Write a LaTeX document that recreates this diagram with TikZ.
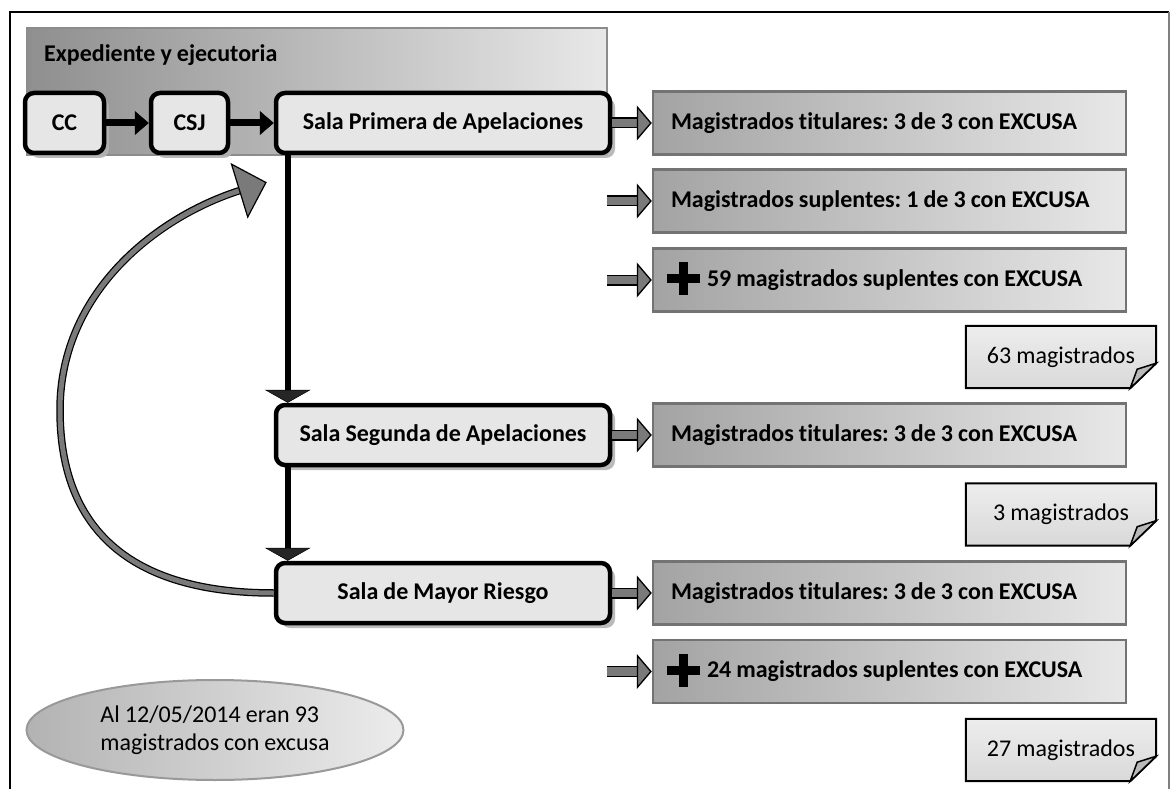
\documentclass[tikz,border=0pt]{standalone}
\usepackage{fontspec}
\setmainfont{Carlito}[Ligatures=NoCommon]
\frenchspacing
\usetikzlibrary{arrows.meta,positioning,shadows,shapes.geometric,backgrounds,calc}
\definecolor{arrowgray}{HTML}{7A7A7A}
\definecolor{salafill}{HTML}{E6E6E6}
\newcommand{\bigfont}{\fontsize{24}{28}\selectfont\spaceskip=0.21em plus 0.1em minus 0.05em\relax}
\newcommand{\crossmark}{\smash{\raisebox{-9pt}{\rlap{\rule[12pt]{33pt}{9pt}}\hspace*{12pt}\rule{9pt}{33pt}}}\hspace*{12pt}\hspace{7pt}}
\tikzset
{
    salanode/.style = {rectangle, rounded corners=9pt, draw=black, line width=4.5pt, fill=salafill, minimum height=60pt, font=\bfseries\bigfont, drop shadow={shadow xshift=5pt, shadow yshift=-5pt, fill=gray!60, opacity=0.9}},
    resultbox/.style = {rectangle, draw=black!55, line width=2.5pt, left color=gray!72, right color=gray!18, minimum width=473pt, minimum height=63pt, text width=437pt, inner xsep=18pt, align=flush left, font=\bfseries\bigfont},
    groupbox/.style = {rectangle, draw=black!45, line width=2pt, left color=gray!88, right color=gray!18, minimum width=580pt, minimum height=127pt},
    grouptitle/.style = {font=\bfseries\bigfont, inner sep=0pt},
    notebox/.style = {minimum width=190pt, minimum height=62pt, font=\bigfont, inner sep=0pt},
    notepaper/.style = {draw=black, line width=2pt, top color=gray!14, bottom color=gray!30},
    notefold/.style = {draw=black, line width=1.5pt, fill=gray!55},
    datenote/.style = {ellipse, draw=gray!80, line width=2pt, left color=gray!60, right color=gray!15, minimum width=377pt, minimum height=100pt, align=flush left, font=\bigfont, inner sep=0pt},
    blackarrow/.style = {draw=black, line width=7pt, -{Triangle[length=14pt, width=24pt, line width=0.5pt]}},
    droparrow/.style = {draw=black, line width=6pt, -{Triangle[length=13pt, width=46pt, line width=0.5pt, fill=black!85, color=black]}},
    grayarrow/.style = {preaction={draw=black, -, line width=11pt, shorten >=13pt}, preaction={draw=arrowgray, -, line width=8.4pt, shorten >=12pt}, draw=arrowgray, line width=1pt, -{Triangle[length=15pt, width=35pt, fill=arrowgray, color=black, line width=1.3pt]}},
    curvearrow/.style = {preaction={draw=black, -, line width=7.5pt, shorten >=26pt}, preaction={draw=arrowgray, -, line width=5pt, shorten >=25pt}, draw=arrowgray, line width=1pt, -{Triangle[length=29pt, width=58pt, fill=arrowgray, color=black, line width=1.2pt]}}
}

\begin{document}
\begin{tikzpicture}[x=1pt, y=-1pt]
	\useasboundingbox (0,0) rectangle (1171,789);
	% frame
	\draw[line width=2.5pt] (10,789) -- (10,12) -- (1169,12);
	\draw[gray, line width=1.5pt] (1169,12) -- (1169,789);

	\node[groupbox] (expbox) at (317,91.5) {};
	\node[grouptitle, anchor=west] (exptitle) at (44,55) {Expediente y ejecutoria};

	\node[salanode, minimum width=79pt] (cc) at (64.5,123) {CC};
	\node[salanode, minimum width=77pt] (csj) at (189.5,123) {CSJ};
	\node[salanode, minimum width=334pt] (sp) at (443,123) {Sala Primera de Apelaciones};
	\node[salanode, minimum width=334pt] (ss) at (443,435) {Sala Segunda de Apelaciones};
	\node[salanode, minimum width=334pt] (sm) at (443,593) {Sala de Mayor Riesgo};

	\node[resultbox] (r1) at (889.5,123) {Magistrados titulares: 3 de 3 con EXCUSA};
	\node[resultbox] (r2) at (889.5,201) {Magistrados suplentes: 1 de 3 con EXCUSA};
	\node[resultbox] (r3) at (889.5,280) {\hspace*{-4pt}\crossmark 59 magistrados suplentes con EXCUSA};
	\node[resultbox] (r4) at (889.5,435) {Magistrados titulares: 3 de 3 con EXCUSA};
	\node[resultbox] (r5) at (889.5,593) {Magistrados titulares: 3 de 3 con EXCUSA};
	\node[resultbox] (r6) at (889.5,671.5) {\hspace*{-4pt}\crossmark 24 magistrados suplentes con EXCUSA};

	\node[notebox] (n1) at (1061,357) {63 magistrados};
	\node[notebox] (n2) at (1061,514.5) {3 magistrados};
	\node[notebox] (n3) at (1061,750) {27 magistrados};

	\node[datenote] (fecha) at (215,730) {Al 12/05/2014 eran 93\\magistrados con excusa};

	\begin{pgfonlayer}{background}
	\foreach \n in {n1,n2,n3}
	{
		\draw[notepaper] (\n.north west) -- (\n.north east) -- ([yshift=25pt]\n.south east) -- ([xshift=-26pt]\n.south east) -- (\n.south west) -- cycle;
		\draw[notefold] ([yshift=25pt]\n.south east) -- ([xshift=-26pt]\n.south east) -- ([shift={(-19pt,19pt)}]\n.south east) -- cycle;
	}
	\end{pgfonlayer}

	\draw[blackarrow] (cc) -- (csj);
	\draw[blackarrow] (csj) -- (sp);
	\draw[droparrow] ([xshift=14pt]sp.south west) -- ([xshift=14pt]ss.north west);
	\draw[droparrow] ([xshift=14pt]ss.south west) -- ([xshift=14pt]sm.north west);

	\coordinate (a2) at (607,201);
	\coordinate (a3) at (607,280);
	\coordinate (a6) at (607,671.5);
	\draw[grayarrow] (sp) -- (r1);
	\draw[grayarrow] (a2) -- (r2);
	\draw[grayarrow] (a3) -- (r3);
	\draw[grayarrow] (ss) -- (r4);
	\draw[grayarrow] (sm) -- (r5);
	\draw[grayarrow] (a6) -- (r6);

	\coordinate (loopend) at ([shift={(-7pt,-27pt)}]sp.south west);
	\draw[curvearrow] (sm.west) .. controls (120,593) and (60,520) .. (60,410) .. controls (60,290) and (160,215) .. (loopend);
\end{tikzpicture}
\end{document}
